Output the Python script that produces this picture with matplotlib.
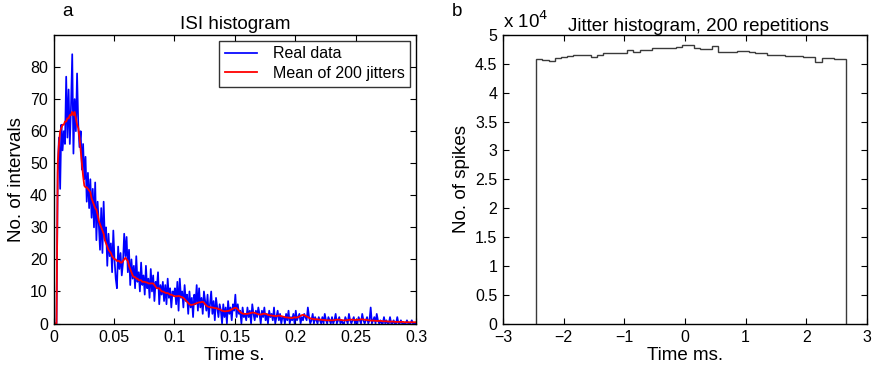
import numpy as np
import matplotlib
matplotlib.use("Agg")
import matplotlib.pyplot as plt

plt.rcParams["font.family"] = ["Liberation Sans", "DejaVu Sans"]

# ---------------- data ----------------
# ISI histogram, 1 ms bins from 0 to 0.3 s
isi_bin_width = 0.001
isi_counts = [
    0, 0, 0, 47, 58, 42, 62, 54, 60, 56,
    77, 58, 73, 56, 68, 84, 53, 70, 60, 78,
    62, 55, 60, 48, 56, 45, 52, 38, 47, 36,
    45, 33, 42, 30, 44, 26, 38, 31, 23, 36,
    22, 38, 26, 30, 18, 28, 21, 25, 16, 29,
    20, 14, 11, 24, 17, 22, 15, 19, 28, 21,
    27, 16, 23, 12, 20, 14, 18, 11, 21, 13,
    16, 10, 19, 12, 15, 9, 18, 11, 14, 8,
    17, 10, 15, 7, 13, 11, 16, 6, 12, 9,
    13, 7, 12, 6, 14, 8, 11, 5, 10, 9,
    11, 6, 13, 4, 14, 8, 10, 5, 12, 7,
    9, 3, 10, 5, 8, 2, 9, 6, 12, 4,
    11, 5, 8, 3, 10, 7, 4, 9, 2, 6,
    10, 3, 7, 1, 8, 5, 2, 6, 4, 0,
    6, 2, 5, 0, 7, 3, 5, 1, 6, 4,
    9, 2, 6, 3, 4, 0, 5, 2, 3, 1,
    5, 2, 4, 0, 6, 3, 1, 4, 2, 5,
    3, 0, 4, 2, 5, 1, 3, 0, 4, 2,
    3, 1, 5, 0, 2, 4, 1, 3, 0, 2,
    2, 0, 3, 1, 4, 0, 2, 1, 3, 0,
    4, 1, 2, 3, 0, 2, 1, 3, 2, 1,
    5, 2, 0, 1, 3, 0, 2, 1, 0, 2,
    1, 0, 2, 0, 3, 1, 0, 2, 1, 0,
    2, 0, 1, 3, 0, 1, 2, 0, 1, 0,
    0, 2, 1, 0, 3, 1, 0, 1, 2, 0,
    1, 0, 2, 1, 0, 3, 1, 0, 1, 2,
    0, 1, 5, 0, 1, 2, 0, 3, 1, 0,
    1, 0, 0, 2, 0, 1, 0, 0, 2, 0,
    0, 1, 0, 0, 2, 0, 0, 1, 0, 0,
    0, 0, 1, 0, 0, 0, 1, 0, 0, 0,
]
jitter_mean = [
    0, 0, 0, 50, 56, 60, 61, 62, 62, 63,
    63, 64, 64, 65, 65, 66, 65, 66, 64, 62,
    61, 58, 54, 50, 46, 43, 42.5, 42.5, 42, 41.5,
    41, 39, 38, 37, 36, 35.5, 34, 32, 31, 30,
    29, 28, 26, 25, 24, 23, 22.5, 22, 21, 20.5,
    20, 20, 19.5, 19.5, 19.5, 19, 19, 19.5, 20, 20.5,
    20, 19.5, 18, 17, 16, 15, 14.5, 14.5, 14, 14,
    13.5, 13.5, 13.5, 13, 13, 13, 12.8, 12.8, 12.5, 12.5,
    12.5, 12.5, 12.5, 12, 11.5, 11, 11, 11, 10.5, 10,
    10, 9.8, 9.6, 9.5, 9.5, 9.3, 9, 9, 8.8, 8.6,
    8.5, 8.5, 8.5, 8.6, 8.5, 8.3, 8.2, 8, 7.6, 7.2,
    6.8, 6.4, 6, 5.8, 5.8, 5.9, 6, 6.2, 6.3, 6.5,
    6.6, 6.6, 6.7, 6.8, 6.5, 6, 5.6, 5.3, 5.2, 5.1,
    5, 5, 4.9, 4.8, 4.8, 4.7, 4.5, 4.4, 4.2, 4,
    3.9, 3.8, 3.8, 3.9, 3.9, 4, 4.2, 4.4, 4.6, 4.8,
    4.9, 4.8, 4.4, 4, 3.6, 3.3, 3.1, 3, 3, 3,
    3, 3.1, 3.2, 3.3, 3.4, 3.4, 3.3, 3.2, 3, 2.9,
    2.8, 2.8, 2.9, 3, 3.1, 3, 2.9, 2.7, 2.6, 2.5,
    2.5, 2.4, 2.4, 2.3, 2.3, 2.4, 2.5, 2.4, 2.3, 2.2,
    2.1, 2, 1.9, 1.9, 1.8, 1.8, 1.7, 1.7, 1.8, 2,
    1.8, 1.9, 2, 2.2, 2.4, 2.6, 2.7, 2.6, 2.4, 2.2,
    2, 1.8, 1.6, 1.5, 1.4, 1.4, 1.3, 1.3, 1.3, 1.2,
    1.2, 1.2, 1.1, 1.1, 1.1, 1, 1, 1, 1, 1,
    1, 1, 1.1, 1.1, 1.2, 1.2, 1.2, 1.1, 1.1, 1,
    1, 1, 1, 1.1, 1.1, 1.2, 1.2, 1.2, 1.1, 1.1,
    1.1, 1.1, 1.2, 1.2, 1.3, 1.3, 1.2, 1.2, 1.1, 1.1,
    1, 1, 0.9, 0.9, 0.9, 0.9, 0.8, 0.8, 0.8, 0.8,
    0.8, 0.8, 0.7, 0.7, 0.7, 0.7, 0.6, 0.6, 0.6, 0.6,
    0.6, 0.6, 0.5, 0.5, 0.5, 0.5, 0.5, 0.5, 0.5, 0.5,
    0.4, 0.4, 0.4, 0.4, 0.4, 0.4, 0.4, 0.4, 0.4, 0.4,
]
isi_xticks = [0, 0.05, 0.1, 0.15, 0.2, 0.25, 0.3]
isi_xticklabels = ["0", "0.05", "0.1", "0.15", "0.2", "0.25", "0.3"]
isi_yticks = [0, 10, 20, 30, 40, 50, 60, 70, 80]

# Jitter histogram, 0.1 ms bins starting at -2.45 ms
jitter_start = -2.45
jitter_bin_width = 0.1
jitter_counts = [
    45800, 45700, 45450, 46000, 46200, 46400, 46500, 46600, 46600, 46150,
    46600, 46800, 46800, 46900, 46900, 47400, 47100, 47400, 47400, 47700,
    47700, 47750, 47750, 48000, 48200, 48200, 47700, 47600, 47600, 48100,
    47100, 47100, 47100, 47200, 47250, 47000, 46800, 46800, 46600, 46500,
    46500, 46400, 46400, 46400, 46150, 46150, 45300, 46000, 46000, 45800,
    45800,
]
jitter_xticks = [-3, -2, -1, 0, 1, 2, 3]
jitter_yticks = [0, 5000, 10000, 15000, 20000, 25000, 30000, 35000, 40000, 45000, 50000]
jitter_yticklabels = ["0", "0.5", "1", "1.5", "2", "2.5", "3", "3.5", "4", "4.5", "5"]

# ---------------- figure ----------------
W, H = 873, 372
fig = plt.figure(figsize=(W / 100, H / 100), dpi=100)

def px_axes(x0, y0, x1, y1):
    return fig.add_axes([x0 / W, 1 - y1 / H, (x1 - x0) / W, (y1 - y0) / H])

tick_fs = 11.5
label_fs = 13.5

def style(ax):
    ax.tick_params(direction="in", top=True, right=True, length=4, width=0.8,
                   labelsize=tick_fs)
    ax.tick_params(axis="x", pad=5)
    ax.tick_params(axis="y", pad=4)
    for s in ax.spines.values():
        s.set_linewidth(1.0)

# left panel
ax1 = px_axes(53.5, 35, 416, 323.5)
centers = np.arange(len(isi_counts)) * isi_bin_width + isi_bin_width / 2
ax1.plot(centers, isi_counts, color="#0000ff", lw=1.25, label="Real data")
ax1.plot(centers, jitter_mean, color="#ff0000", lw=1.3, label="Mean of 200 jitters")
ax1.set_xlim(0, 0.3)
ax1.set_ylim(0, 90)
ax1.set_xticks(isi_xticks)
ax1.set_xticklabels(isi_xticklabels)
ax1.set_yticks(isi_yticks)
style(ax1)
ax1.set_xlabel("Time s.", fontsize=label_fs, labelpad=1)
ax1.set_ylabel("No. of intervals", fontsize=label_fs, labelpad=4)
ax1.set_title("ISI histogram", fontsize=label_fs, pad=4)
leg = ax1.legend(loc="upper right", fontsize=11.5, frameon=True, fancybox=False,
                 borderaxespad=0.35, handlelength=2.0, handletextpad=1.0,
                 borderpad=0.35, labelspacing=0.3)
leg.get_frame().set_edgecolor("black")
leg.get_frame().set_linewidth(1.0)
fig.text(62 / W, 1 - 12 / H, "a", fontsize=label_fs, ha="left", va="center")

# right panel
ax2 = px_axes(503, 35, 867, 323.5)
edges = jitter_start + np.arange(len(jitter_counts) + 1) * jitter_bin_width
ax2.stairs(jitter_counts, edges, baseline=0, color="#3a3a3a", lw=1.0)
ax2.set_xlim(-3, 3)
ax2.set_ylim(0, 50000)
ax2.set_xticks(jitter_xticks)
ax2.set_xticklabels([str(v).replace("-", "\u2212") for v in jitter_xticks])
ax2.set_yticks(jitter_yticks)
ax2.set_yticklabels(jitter_yticklabels)
style(ax2)
ax2.set_xlabel("Time ms.", fontsize=label_fs, labelpad=1)
ax2.set_ylabel("No. of spikes", fontsize=label_fs, labelpad=4)
ax2.text(0.538, 1.0, "Jitter histogram, 200 repetitions", transform=ax2.transAxes,
         ha="center", va="bottom", fontsize=label_fs)
ax2.text(0.0, 1.01, "x 10$^{4}$", transform=ax2.transAxes, ha="left", va="bottom",
         fontsize=label_fs)
fig.text(452 / W, 1 - 12 / H, "b", fontsize=label_fs, ha="left", va="center")

fig.savefig("out.png", dpi=100)
